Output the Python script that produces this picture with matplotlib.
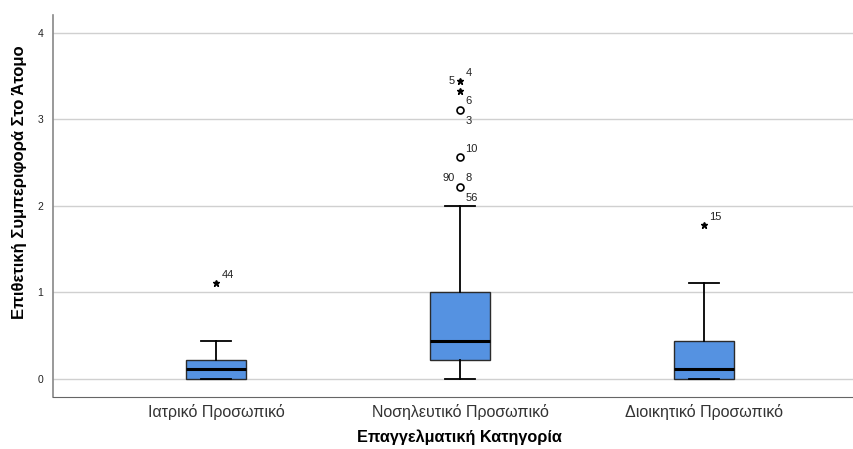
import matplotlib
matplotlib.use("Agg")
import matplotlib.pyplot as plt

plt.rcParams['font.family'] = ['Liberation Sans', 'DejaVu Sans']

categories = ["Ιατρικό Προσωπικό", "Νοσηλευτικό Προσωπικό", "Διοικητικό Προσωπικό"]
q1 = [0.0, 0.22, 0.0]
median = [0.11, 0.44, 0.11]
q3 = [0.22, 1.0, 0.44]
whisker_low = [0.0, 0.0, 0.0]
whisker_high = [0.44, 2.0, 1.11]

# outliers: group index (1-based), value, kind ('o' = outlier, '*' = extreme)
out_group = [1, 2, 2, 2, 2, 2, 3]
out_value = [1.11, 3.44, 3.33, 3.11, 2.56, 2.22, 1.78]
out_kind = ['*', '*', '*', 'o', 'o', 'o', '*']

# case labels next to the outliers
lab_text = ["44", "4", "5", "6", "3", "10", "90", "8", "56", "15"]
lab_group = [1, 2, 2, 2, 2, 2, 2, 2, 2, 3]
lab_value = [1.11, 3.44, 3.44, 3.11, 3.11, 2.56, 2.22, 2.22, 2.22, 1.78]
lab_side = ["ur", "ur", "l", "ur", "lr", "ur", "ul", "ur", "lr", "ur"]

offsets = {"ur": (4, 6, "left"), "lr": (4, -8, "left"),
           "l": (-4, 0, "right"), "ul": (-4, 6, "right")}

fig = plt.figure(figsize=(8.54, 4.49), dpi=100)
ax = fig.add_axes([0.062, 0.116, 0.938, 0.851])

stats = []
for i in range(len(categories)):
    stats.append(dict(med=median[i], q1=q1[i], q3=q3[i],
                      whislo=whisker_low[i], whishi=whisker_high[i], fliers=[]))

ax.bxp(stats, positions=[1, 2, 3], widths=0.246, patch_artist=True,
       showfliers=False,
       boxprops=dict(facecolor="#5592e1", edgecolor="#2b2b2b", linewidth=1.0),
       medianprops=dict(color="black", linewidth=2.2),
       whiskerprops=dict(color="black", linewidth=1.3),
       capprops=dict(color="black", linewidth=1.3),
       capwidths=0.125, zorder=3)

for g, v, k in zip(out_group, out_value, out_kind):
    if k == '*':
        ax.plot(g, v, marker='*', color='black', markersize=5, zorder=4)
    else:
        ax.plot(g, v, marker='o', markerfacecolor='white', markeredgecolor='black',
                markersize=5, markeredgewidth=1.2, zorder=4)

for t, g, v, s in zip(lab_text, lab_group, lab_value, lab_side):
    dx, dy, ha = offsets[s]
    ax.annotate(t, (g, v), xytext=(dx, dy), textcoords="offset points",
                ha=ha, va="center", fontsize=8, color="#222222")

ax.set_xlim(0.332, 3.615)
ax.set_ylim(-0.208, 4.208)
ax.set_yticks([0, 1, 2, 3, 4])
ax.set_yticklabels(["0", "1", "2", "3", "4"], fontsize=7.5, color="#222222")
ax.set_xticks([1, 2, 3])
ax.set_xticklabels(categories, fontsize=11.5, color="#333333")
ax.tick_params(axis='both', length=0)
ax.tick_params(axis='y', pad=7)
ax.tick_params(axis='x', pad=5)
ax.grid(axis='y', color="#d0d0d0", linewidth=1.0, zorder=0)
ax.set_axisbelow(True)

for side in ["top", "right"]:
    ax.spines[side].set_visible(False)
ax.spines["left"].set_color("#888888")
ax.spines["bottom"].set_color("#666666")
ax.spines["left"].set_linewidth(1.2)

ax.set_xlabel("Επαγγελματική Κατηγορία", fontsize=11.7, fontweight="bold")
ax.xaxis.set_label_coords(0.508, -0.085)
ax.set_ylabel("Επιθετική Συμπεριφορά Στο Άτομο", fontsize=12, fontweight="bold")
ax.yaxis.set_label_coords(-0.032, 0.563)

fig.savefig("out.png", dpi=100)
